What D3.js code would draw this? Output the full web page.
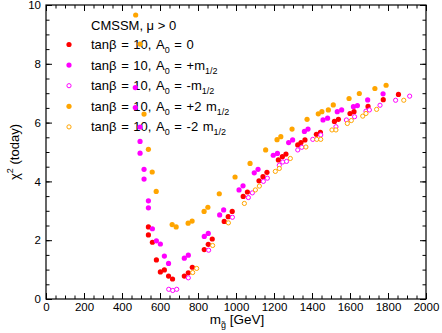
<!DOCTYPE html>
<html>
<head>
<meta charset="utf-8">
<script src="https://cdn.jsdelivr.net/npm/d3@7"></script>
<style>
  body { margin: 0; background: white; }
  svg { font-family: "Liberation Sans", Arial, sans-serif; }
  .axis path { display: none; }
  .axis line { stroke: black; }
  .axis text { font-size: 11.5px; fill: black; }
</style>
</head>
<body>
<svg width="442" height="333"></svg>
<script>
// chart values: [m_gluino, chi2]
var a0Zero = [[539,2.45],[539,2.18],[560,1.93],[581,1.33],[602,0.92],[623,0.99],[645,0.78],[666,0.68],
  [728,0.78],[749,0.89],[770,1.08],[833,1.68],[854,1.86],[875,2.04],[938,2.64],[959,2.80],[980,2.98],
  [1038,3.49],[1060,3.64],[1121,4.02],[1142,4.16],[1163,4.31],[1223,4.73],[1244,4.84],[1263,4.93],
  [1325,5.24],[1342,5.32],[1363,5.41],[1423,5.60],[1444,5.67],[1518,6.04],[1539,6.11],[1600,6.31],
  [1621,6.37],[1695,6.55],[1775,6.78],[1855,6.96]];
var a0PlusM = [[470,7.19],[470,6.51],[495,5.85],[495,5.36],[495,4.96],[516,4.41],[516,4.08],[539,3.34],
  [539,3.10],[560,2.39],[581,1.98],[602,1.87],[623,1.46],[645,1.21],[728,1.39],[749,1.49],[833,2.13],
  [854,2.23],[914,2.86],[935,3.03],[1016,3.71],[1037,3.85],[1096,4.29],[1116,4.41],[1196,4.89],
  [1218,4.95],[1277,5.32],[1298,5.41],[1360,5.70],[1379,5.78],[1458,6.09],[1482,6.15],[1533,6.37],
  [1556,6.43],[1618,6.54],[1639,6.58],[1693,6.77],[1774,6.98]];
var a0MinusM = [[646,0.33],[667,0.29],[688,0.33],[749,0.72],[856,1.66],[981,2.78],[1065,3.45],[1086,3.61],
  [1144,4.00],[1165,4.11],[1228,4.55],[1246,4.66],[1266,4.68],[1325,5.07],[1346,5.16],[1404,5.43],
  [1446,5.58],[1526,5.86],[1581,6.09],[1624,6.20],[1684,6.39],[1702,6.43],[1758,6.59],[1840,6.76],
  [1914,6.90]];
var a0Plus2M = [[472,9.66],[495,8.67],[516,6.29],[539,5.09],[559,4.32],[580,3.66],[664,2.53],[685,2.45],
  [748,2.58],[769,2.65],[832,2.98],[852,3.12],[912,3.58],[995,4.15],[1074,4.61],[1156,5.07],
  [1216,5.42],[1236,5.52],[1295,5.78],[1374,6.11],[1433,6.30],[1452,6.37],[1486,6.43],[1512,6.60],
  [1595,6.82],[1649,6.99],[1731,7.16],[1790,7.27]];
var a0Minus2M = [[772,0.90],[793,1.04],[877,1.82],[960,2.59],[1044,3.25],[1102,3.71],[1123,3.84],
  [1207,4.34],[1228,4.44],[1286,4.78],[1368,5.17],[1425,5.43],[1446,5.43],[1505,5.75],[1526,5.75],
  [1586,5.97],[1607,6.07],[1667,6.22],[1684,6.31],[1740,6.45],[1883,6.76]];

var xTicks = [0, 200, 400, 600, 800, 1000, 1200, 1400, 1600, 1800, 2000];
var yTicks = [0, 2, 4, 6, 8, 10];

var series = [
  { data: a0Zero,    color: "#ff0000", open: false, a0: "0" },
  { data: a0PlusM,   color: "#ff00ff", open: false, a0: "+m" },
  { data: a0MinusM,  color: "#ff00ff", open: true,  a0: "-m" },
  { data: a0Plus2M,  color: "#ffa500", open: false, a0: "+2 m" },
  { data: a0Minus2M, color: "#ffa500", open: true,  a0: "-2 m" }
];

var svg = d3.select("svg");
var plotLeft = 46, plotRight = 426, plotTop = 5, plotBottom = 299;

var x = d3.scaleLinear().domain([0, 2000]).range([plotLeft, plotRight]);
var y = d3.scaleLinear().domain([0, 10]).range([plotBottom, plotTop]);

var xMinor = d3.range(0, 2001, 50);
var yMinor = d3.range(0, 10.01, 0.5);

// bottom axis with labels
svg.append("g").attr("class", "axis")
  .attr("transform", "translate(0," + plotBottom + ")")
  .call(d3.axisBottom(x).tickValues(xTicks).tickFormat(d3.format("d"))
    .tickSizeInner(-6).tickSizeOuter(0).tickPadding(4));
svg.append("g").attr("class", "axis")
  .attr("transform", "translate(0," + plotBottom + ")")
  .call(d3.axisBottom(x).tickValues(xMinor).tickFormat("").tickSizeInner(-3.5).tickSizeOuter(0));
// top
svg.append("g").attr("class", "axis")
  .attr("transform", "translate(0," + plotTop + ")")
  .call(d3.axisTop(x).tickValues(xTicks).tickFormat("").tickSizeInner(-6).tickSizeOuter(0));
svg.append("g").attr("class", "axis")
  .attr("transform", "translate(0," + plotTop + ")")
  .call(d3.axisTop(x).tickValues(xMinor).tickFormat("").tickSizeInner(-3.5).tickSizeOuter(0));
// left axis with labels
svg.append("g").attr("class", "axis")
  .attr("transform", "translate(" + plotLeft + ",0)")
  .call(d3.axisLeft(y).tickValues(yTicks).tickFormat(d3.format("d"))
    .tickSizeInner(-6).tickSizeOuter(0).tickPadding(5));
svg.append("g").attr("class", "axis")
  .attr("transform", "translate(" + plotLeft + ",0)")
  .call(d3.axisLeft(y).tickValues(yMinor).tickFormat("").tickSizeInner(-3.5).tickSizeOuter(0));
// right
svg.append("g").attr("class", "axis")
  .attr("transform", "translate(" + plotRight + ",0)")
  .call(d3.axisRight(y).tickValues(yTicks).tickFormat("").tickSizeInner(-6).tickSizeOuter(0));
svg.append("g").attr("class", "axis")
  .attr("transform", "translate(" + plotRight + ",0)")
  .call(d3.axisRight(y).tickValues(yMinor).tickFormat("").tickSizeInner(-3.5).tickSizeOuter(0));

// frame
svg.append("rect")
  .attr("x", plotLeft).attr("y", plotTop)
  .attr("width", plotRight - plotLeft).attr("height", plotBottom - plotTop)
  .attr("fill", "none").attr("stroke", "black").attr("stroke-width", 1.2);

// axis titles
var xt = svg.append("text")
  .attr("x", 237).attr("y", 324)
  .attr("text-anchor", "middle")
  .style("font-size", "13.5px");
xt.append("tspan").text("m");
xt.append("tspan").attr("dy", 4).style("font-size", "9px").text("g\u0303");
xt.append("tspan").attr("dy", -4).text(" [GeV]");

var yt = svg.append("text")
  .attr("transform", "translate(19,152) rotate(-90)")
  .attr("text-anchor", "middle")
  .style("font-size", "13px");
yt.append("tspan").text("\u03c7");
yt.append("tspan").attr("dy", -6).style("font-size", "9px").text("2");
yt.append("tspan").attr("dy", 6).text(" (today)");

// legend
svg.append("text")
  .attr("x", 91).attr("y", 30)
  .style("font-size", "13px")
  .text("CMSSM, \u03bc > 0");

var legend = svg.selectAll(".leg")
  .data(series)
  .enter()
  .append("g")
  .attr("class", "leg")
  .attr("transform", (d, i) => "translate(0," + (44.5 + i * 20.6) + ")");

legend.append("circle")
  .attr("cx", 69).attr("cy", 0)
  .attr("r", d => d.open ? 2.1 : 2.6)
  .attr("fill", d => d.open ? "white" : d.color)
  .attr("stroke", d => d.color)
  .attr("stroke-width", d => d.open ? 1 : 0);

var lt = legend.append("text")
  .attr("x", 91).attr("y", 4.5)
  .style("font-size", "13px")
  .style("word-spacing", "1px");
lt.append("tspan").text("tan\u03b2 = 10, A");
lt.append("tspan").attr("dy", 4).style("font-size", "9px").text("0");
lt.append("tspan").attr("dy", -4).text(d => " = " + d.a0);
lt.filter(d => d.a0 !== "0")
  .append("tspan").attr("dy", 4).style("font-size", "9px").text("1/2");

// points
series.forEach(function(s) {
  svg.append("g")
    .selectAll("circle")
    .data(s.data)
    .enter()
    .append("circle")
    .attr("cx", d => x(d[0]))
    .attr("cy", d => y(d[1]))
    .attr("r", s.open ? 2.1 : 2.6)
    .attr("fill", s.open ? "white" : s.color)
    .attr("stroke", s.color)
    .attr("stroke-width", s.open ? 1 : 0);
});
</script>
</body>
</html>
